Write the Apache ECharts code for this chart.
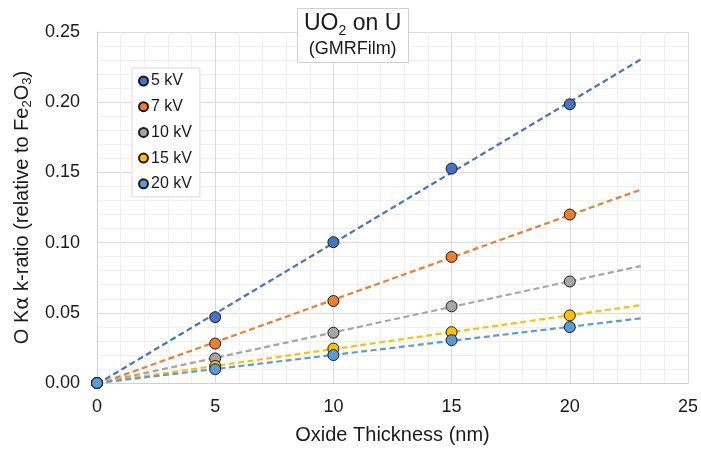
<!DOCTYPE html>
<html>
<head>
<meta charset="utf-8">
<script src="https://cdn.jsdelivr.net/npm/echarts@6/dist/echarts.min.js"></script>
<style>
  html, body { margin: 0; padding: 0; background: #fff; }
  #chart { width: 701px; height: 450px; }
</style>
</head>
<body>
<div id="chart"></div>
<script>
// Oxide thickness (nm) and measured O Kα k-ratios for each beam energy
const thickness = [0, 5, 10, 15, 20];
const seriesNames = ['5 kV', '7 kV', '10 kV', '15 kV', '20 kV'];
const kv5  = [0, 0.0469, 0.1003, 0.1527, 0.1985];
const kv7  = [0, 0.0281, 0.0584, 0.0898, 0.1200];
const kv10 = [0, 0.0175, 0.0358, 0.0546, 0.0723];
const kv15 = [0, 0.0121, 0.0245, 0.0362, 0.0481];
const kv20 = [0, 0.0098, 0.0199, 0.0305, 0.0398];
const colors = ['#4472C4', '#ED7D31', '#A5A5A5', '#FFC000', '#5B9BD5'];
const trendEnd = 23; // linear trendlines are projected forward to 23 nm

const values = [kv5, kv7, kv10, kv15, kv20];

// least-squares linear fit y = a + b x
function linFit(xs, ys) {
  const n = xs.length;
  let sx = 0, sy = 0, sxx = 0, sxy = 0;
  for (let i = 0; i < n; i++) {
    sx += xs[i]; sy += ys[i]; sxx += xs[i] * xs[i]; sxy += xs[i] * ys[i];
  }
  const b = (n * sxy - sx * sy) / (n * sxx - sx * sx);
  const a = (sy - b * sx) / n;
  return { a, b };
}

const font = 'Liberation Sans, Arial, sans-serif';
const series = [];

// dashed trendlines underneath the markers
values.forEach((ys, i) => {
  const f = linFit(thickness, ys);
  series.push({
    type: 'line',
    name: seriesNames[i] + ' trend',
    data: [[0, f.a], [trendEnd, f.a + f.b * trendEnd]],
    showSymbol: false,
    symbol: 'none',
    silent: true,
    lineStyle: { color: colors[i], width: 2.2, type: [6, 3.5] },
    z: 2
  });
});

// measured points
values.forEach((ys, i) => {
  series.push({
    type: 'scatter',
    name: seriesNames[i],
    data: thickness.map((x, j) => [x, ys[j]]),
    symbol: 'circle',
    symbolSize: 11,
    itemStyle: { color: colors[i], borderColor: '#1a1a1a', borderWidth: 1, opacity: 1 },
    z: 3
  });
});

const chart = echarts.init(document.getElementById('chart'), null, { renderer: 'canvas' });
chart.setOption({
  animation: false,
  backgroundColor: '#ffffff',
  textStyle: { fontFamily: font },
  title: {
    left: 297,
    top: 6,
    text: '{a|UO}{s|2}{a| on U}\n{b|(GMRFilm)}',
    textAlign: 'left',
    backgroundColor: '#ffffff',
    borderColor: '#d0d0d0',
    borderWidth: 1,
    padding: [4, 7, 5, 7],
    textStyle: {
      fontWeight: 'normal',
      rich: {
        a: { fontSize: 23, fontWeight: 'normal', color: '#1a1a1a', fontFamily: font, lineHeight: 28, align: 'center' },
        s: { fontSize: 14, fontWeight: 'normal', color: '#1a1a1a', fontFamily: font, verticalAlign: 'bottom', lineHeight: 28, padding: [12, 0, 0, 0] },
        b: { fontSize: 18, fontWeight: 'normal', color: '#1a1a1a', fontFamily: font, lineHeight: 22, align: 'center' }
      }
    }
  },
  legend: {
    data: seriesNames,
    orient: 'vertical',
    left: 132,
    top: 68,
    itemWidth: 9,
    itemHeight: 9,
    itemGap: 9.7,
    icon: 'circle',
    padding: [5, 8, 5, 6],
    backgroundColor: '#ffffff',
    borderColor: '#d9d9d9',
    borderWidth: 1,
    textStyle: { fontSize: 16, color: '#1a1a1a', fontFamily: font, padding: [0, 0, 0, -2] }
  },
  grid: { left: 97, right: 12, top: 32, bottom: 63, containLabel: false },
  xAxis: {
    type: 'value',
    min: 0, max: 25, interval: 5,
    name: 'Oxide Thickness (nm)',
    nameLocation: 'middle',
    nameGap: 42,
    nameTextStyle: { fontSize: 20, color: '#1a1a1a', fontFamily: font },
    axisLine: { show: true, lineStyle: { color: '#d0d0d0', width: 1 } },
    axisTick: { show: false },
    axisLabel: { fontSize: 18, color: '#1a1a1a', margin: 15, fontFamily: font },
    splitLine: { show: true, lineStyle: { color: '#d9d9d9', width: 1 } },
    minorTick: { show: false, splitNumber: 5 },
    minorSplitLine: { show: true, lineStyle: { color: '#efefef', width: 1 } }
  },
  yAxis: {
    type: 'value',
    min: 0, max: 0.25, interval: 0.05,
    name: '{t|O K}{g|α}{t| k-ratio (relative to Fe}{s|2}{t|O}{s|3}{t|)}',
    nameLocation: 'middle',
    nameGap: 57,
    nameRotate: 90,
    nameTextStyle: {
      rich: {
        t: { fontSize: 20, color: '#1a1a1a', fontFamily: font },
        g: { fontSize: 20, color: '#1a1a1a', fontFamily: 'DejaVu Sans, sans-serif' },
        s: { fontSize: 13, color: '#1a1a1a', fontFamily: font, padding: [10, 0, 0, 0] }
      }
    },
    axisLine: { show: true, lineStyle: { color: '#d0d0d0', width: 1 } },
    axisTick: { show: false },
    axisLabel: {
      fontSize: 18, color: '#1a1a1a', margin: 17, fontFamily: font,
      formatter: v => v.toFixed(2)
    },
    splitLine: { show: true, lineStyle: { color: '#d9d9d9', width: 1 } },
    minorTick: { show: false, splitNumber: 5 },
    minorSplitLine: { show: true, lineStyle: { color: '#efefef', width: 1 } }
  },
  series: series
});
</script>
</body>
</html>
